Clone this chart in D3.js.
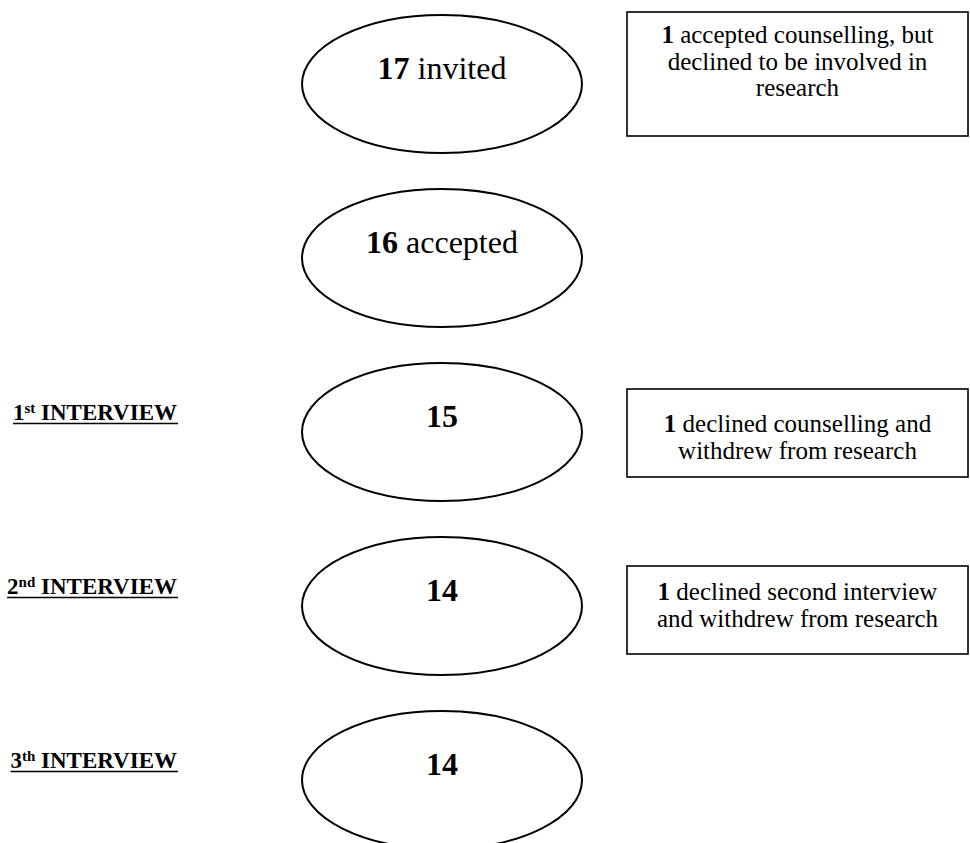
<!DOCTYPE html>
<html>
<head>
<meta charset="utf-8">
<script src="https://cdn.jsdelivr.net/npm/d3@7"></script>
<style>
    body { margin: 0; background: #fff; }
    svg { display: block; }
    text { font-family: "Liberation Serif", "Times New Roman", serif; fill: #000; }
</style>
</head>
<body>
<svg id="flow"></svg>
<script>
// stages of the recruitment flow
var stages = ["invited", "accepted", "interview1", "interview2", "interview3"];
var counts = [17, 16, 15, 14, 14];
var stageWords = ["invited", "accepted", "", "", ""];

// interview labels on the left (number, suffix)
var interviewStages = ["interview1", "interview2", "interview3"];
var interviewNums = ["1", "2", "3"];
var interviewSuffix = ["st", "nd", "th"];

// side notes on the right
var noteStages = ["invited", "interview1", "interview2"];
var noteCounts = [1, 1, 1];
var noteLines = [
    [" accepted counselling, but", "declined to be involved in", "research"],
    [" declined counselling and", "withdrew from research"],
    [" declined second interview", "and withdrew from research"]
];

var width = 970, height = 843;
var layout = {
    cx: 442, rx: 140, ry: 69,
    boxLeft: 627, boxRight: 968,
    noteTop: [12, 389, 566],
    noteHeight: [124, 88, 88],
    noteFirstLine: [31, 43, 34],
    lineGap: 26.5,
    labelRight: 177
};

var svg = d3.select("#flow")
    .attr("width", width)
    .attr("height", height);

// vertical position of each stage
var y = d3.scalePoint()
    .domain(stages)
    .range([84, 780]);

// ellipses
var nodes = svg.append("g").attr("class", "nodes");
nodes.selectAll("ellipse")
    .data(stages).enter()
    .append("ellipse")
    .attr("cx", layout.cx)
    .attr("cy", d => y(d))
    .attr("rx", layout.rx)
    .attr("ry", layout.ry)
    .style("fill", "#fff")
    .style("stroke", "#000")
    .style("stroke-width", 2);

var nodeText = nodes.selectAll("text.count")
    .data(stages).enter()
    .append("text")
    .attr("class", "count")
    .attr("x", layout.cx)
    .attr("y", d => y(d) - 5)
    .attr("text-anchor", "middle")
    .style("font-size", "32px");
nodeText.append("tspan")
    .style("font-weight", "bold")
    .text((d, i) => counts[i]);
nodeText.append("tspan")
    .text((d, i) => stageWords[i] ? " " + stageWords[i] : "");

// interview labels
var labels = svg.append("g").attr("class", "labels");
var label = labels.selectAll("g")
    .data(interviewStages).enter()
    .append("g");
var labelText = label.append("text")
    .attr("x", layout.labelRight)
    .attr("y", d => y(d) - 12)
    .attr("text-anchor", "end")
    .style("font-size", "23px")
    .style("font-weight", "bold");
labelText.append("tspan").text((d, i) => interviewNums[i]);
labelText.append("tspan")
    .attr("dy", -7)
    .style("font-size", "15px")
    .text((d, i) => interviewSuffix[i]);
labelText.append("tspan")
    .attr("dy", 7)
    .text(" INTERVIEW");
// underline
label.each(function(d) {
    var t = d3.select(this).select("text");
    var w = t.node().getComputedTextLength();
    d3.select(this).append("line")
        .attr("x1", layout.labelRight - w)
        .attr("x2", layout.labelRight + 1)
        .attr("y1", y(d) - 8.5)
        .attr("y2", y(d) - 8.5)
        .style("stroke", "#000")
        .style("stroke-width", 1.6);
});

// note boxes
var notes = svg.append("g").attr("class", "notes");
var note = notes.selectAll("g")
    .data(noteStages).enter()
    .append("g");
note.append("rect")
    .attr("x", layout.boxLeft)
    .attr("y", (d, i) => layout.noteTop[i])
    .attr("width", layout.boxRight - layout.boxLeft)
    .attr("height", (d, i) => layout.noteHeight[i])
    .style("fill", "#fff")
    .style("stroke", "#000")
    .style("stroke-width", 1.6);
note.each(function(d, i) {
    var g = d3.select(this);
    var cxBox = (layout.boxLeft + layout.boxRight) / 2;
    noteLines[i].forEach(function(line, j) {
        var t = g.append("text")
            .attr("x", cxBox)
            .attr("y", layout.noteTop[i] + layout.noteFirstLine[i] + j * layout.lineGap)
            .attr("text-anchor", "middle")
            .style("font-size", "25px");
        if (j === 0) {
            t.append("tspan").style("font-weight", "bold").text(noteCounts[i]);
        }
        t.append("tspan").text(line);
    });
});
</script>
</body>
</html>
